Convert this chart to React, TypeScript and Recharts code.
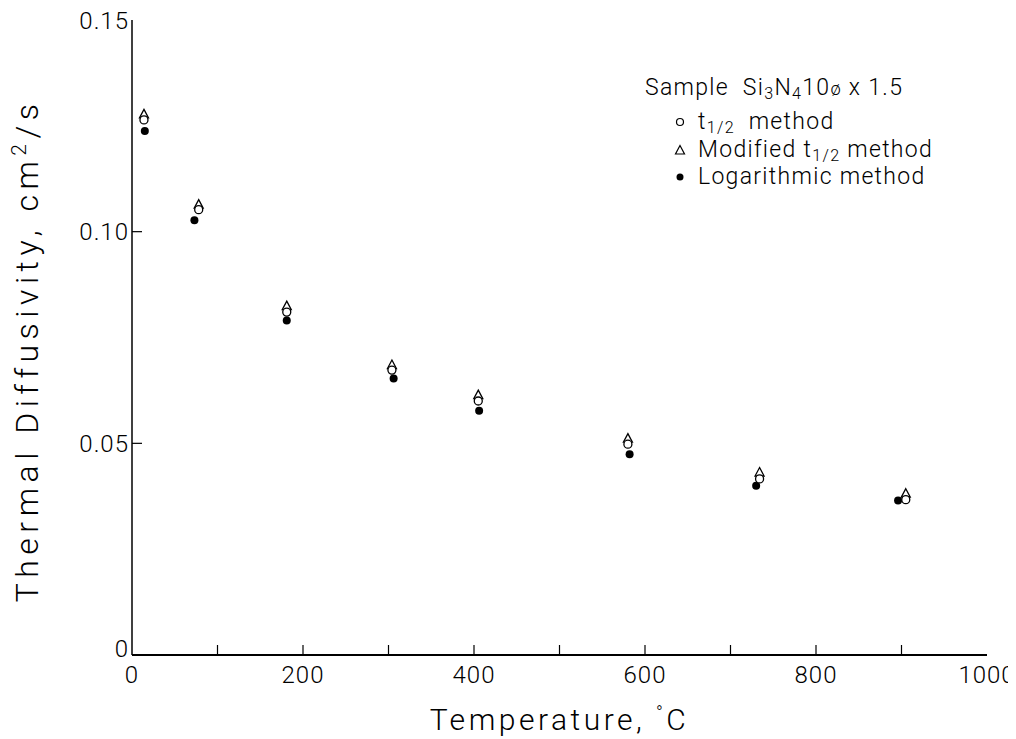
import React from 'react';
import { ScatterChart, Scatter, XAxis, YAxis, Legend, ReferenceLine } from 'recharts';

// values
const tempsOpen = [14, 78, 181, 304, 405, 580, 734, 905];
const halfTimeMethod = [0.1264, 0.1052, 0.081, 0.0673, 0.06, 0.0498, 0.0416, 0.0367];
const modifiedHalfTimeMethod = [0.1277, 0.1064, 0.0824, 0.0685, 0.0614, 0.0511, 0.0431, 0.0381];
const tempsLog = [15, 73, 181, 306, 406, 582, 730, 896];
const logarithmicMethod = [0.1238, 0.1027, 0.079, 0.0653, 0.0577, 0.0474, 0.04, 0.0365];

const xTicks = [0, 100, 200, 300, 400, 500, 600, 700, 800, 900, 1000];
const yTicks = [0, 0.05, 0.1, 0.15];

const toPoints = (ts: number[], ds: number[]) => ts.map((t, i) => ({ t, d: ds[i] }));

const halfData = toPoints(tempsOpen, halfTimeMethod);
const modData = toPoints(tempsOpen, modifiedHalfTimeMethod);
const logData = toPoints(tempsLog, logarithmicMethod);

const W = 1008;
const H = 731;
const M = { top: 12, right: 29, left: 0, bottom: 8 };
const Y_AXIS_W = 124;
const X_AXIS_H = 76;
const X_MAX = 1000;
const Y_MAX = 0.15;
const PLOT_W = W - M.left - M.right - Y_AXIS_W;
const PLOT_H = H - M.top - M.bottom - X_AXIS_H;
// inward tick length (10px) expressed in data units
const TICK_PX = 10;
const xTickLen = (TICK_PX / PLOT_H) * Y_MAX;
const yTickLen = (TICK_PX / PLOT_W) * X_MAX;

const font = "Roboto, 'DejaVu Sans', sans-serif";
const tickStyle = { fill: '#000', fontSize: 24, fontFamily: font, fontWeight: 300, letterSpacing: 1 };
const titleStyle = { fill: '#000', fontSize: 32, fontFamily: font, fontWeight: 300, letterSpacing: 5.5 };

const OpenCircle = (p: any) => (
  <circle cx={p.cx} cy={p.cy} r={4} fill="#fff" stroke="#000" strokeWidth={1.3} />
);

const OpenTriangle = (p: any) => (
  <polygon
    points={`${p.cx},${p.cy - 5} ${p.cx + 4.5},${p.cy + 3.5} ${p.cx - 4.5},${p.cy + 3.5}`}
    fill="#fff"
    stroke="#000"
    strokeWidth={1.3}
  />
);

const FilledDot = (p: any) => <circle cx={p.cx} cy={p.cy} r={4} fill="#000" />;

const XTick = (p: any) => {
  const { x, y, payload } = p;
  const v = payload.value;
  if (v % 200 !== 0) return <g />;
  return (
    <text x={x} y={y - 3} dy="0.71em" textAnchor="middle" style={tickStyle}>
      {v}
    </text>
  );
};

const YTick = (p: any) => {
  const { x, y, payload } = p;
  const v = payload.value;
  // the zero sits a little higher so it clears the x-axis zero
  const lift = v === 0 ? 7 : 0;
  return (
    <text x={x + 11} y={y - lift} dy="0.36em" textAnchor="end" style={tickStyle}>
      {v === 0 ? '0' : v.toFixed(2)}
    </text>
  );
};

const YTitle = ({ viewBox }: any) => {
  const x = viewBox.x + 30;
  const y = viewBox.y + viewBox.height / 2 + 13;
  return (
    <text x={x} y={y} transform={`rotate(-90 ${x} ${y})`} textAnchor="middle" style={titleStyle}>
      Thermal Diffusivity, cm<tspan dy={-12} fontSize={21}>2</tspan>
      <tspan dy={12}>/s</tspan>
    </text>
  );
};

const XTitle = ({ viewBox }: any) => {
  const x = viewBox.x + viewBox.width / 2;
  const y = viewBox.y + 75;
  return (
    <text x={x} y={y} textAnchor="middle" style={{ ...titleStyle, fontSize: 30, letterSpacing: 3.5 }}>
      Temperature, <tspan dy={-11} fontSize={18}>°</tspan>
      <tspan dy={11}>C</tspan>
    </text>
  );
};

const sub = { fontSize: '0.7em', verticalAlign: '-0.25em', lineHeight: 0 };

const LegendBox = () => {
  const row = (top: number, left: number) =>
    ({ position: 'absolute', top, left, lineHeight: '22px', whiteSpace: 'pre' }) as React.CSSProperties;
  const mark = (top: number) => ({ position: 'absolute', top, left: 29 }) as React.CSSProperties;
  return (
    <div
      style={{
        position: 'relative',
        width: 320,
        height: 130,
        fontFamily: font,
        fontWeight: 300,
        fontSize: 23,
        color: '#000',
        letterSpacing: 1.3,
      }}
    >
      <div style={row(9, 0)}>
        Sample  Si<span style={sub}>3</span>N<span style={sub}>4</span>10<span style={{ fontSize: '0.8em' }}>ø</span> x 1.5
      </div>
      <svg width={12} height={12} style={mark(48)}>
        <circle cx={6} cy={6} r={3.5} fill="none" stroke="#000" strokeWidth={1.2} />
      </svg>
      <div style={row(43, 53)}>
        t<span style={sub}>1/2</span>  method
      </div>
      <svg width={12} height={12} style={mark(76)}>
        <polygon points="6,1.5 10.5,10 1.5,10" fill="none" stroke="#000" strokeWidth={1.2} />
      </svg>
      <div style={row(71, 53)}>
        Modified t<span style={sub}>1/2</span> method
      </div>
      <svg width={12} height={12} style={mark(103)}>
        <circle cx={6} cy={6} r={3.5} fill="#000" />
      </svg>
      <div style={row(98, 53)}>Logarithmic method</div>
    </div>
  );
};

export default function App() {
  return (
    <ScatterChart width={W} height={H} margin={M}>
      <XAxis
        type="number"
        dataKey="t"
        domain={[0, X_MAX]}
        ticks={xTicks}
        height={X_AXIS_H}
        tickSize={6}
        tickMargin={8}
        tickLine={false}
        axisLine={{ stroke: '#000', strokeWidth: 2 }}
        tick={<XTick />}
        label={{ content: XTitle }}
      />
      <XAxis
        xAxisId="top"
        orientation="top"
        type="number"
        domain={[0, X_MAX]}
        height={0}
        tick={false}
        tickLine={false}
        axisLine={{ stroke: '#000', strokeWidth: 1.5 }}
      />
      <YAxis
        type="number"
        dataKey="d"
        domain={[0, Y_MAX]}
        ticks={yTicks}
        width={Y_AXIS_W}
        tickSize={6}
        tickMargin={8}
        tickLine={false}
        axisLine={{ stroke: '#000', strokeWidth: 1.5 }}
        tick={<YTick />}
        label={{ content: YTitle }}
      />
      <YAxis
        yAxisId="right"
        orientation="right"
        type="number"
        domain={[0, Y_MAX]}
        width={0}
        tick={false}
        tickLine={false}
        axisLine={{ stroke: '#000', strokeWidth: 1.5 }}
      />
      {xTicks.slice(1, -1).map((v) => (
        <ReferenceLine
          key={`xt${v}`}
          segment={[
            { x: v, y: 0 },
            { x: v, y: xTickLen },
          ]}
          stroke="#000"
          strokeWidth={1.2}
          ifOverflow="visible"
        />
      ))}
      {yTicks.slice(1, -1).map((v) => (
        <ReferenceLine
          key={`yt${v}`}
          segment={[
            { x: 0, y: v },
            { x: yTickLen, y: v },
          ]}
          stroke="#000"
          strokeWidth={1.2}
          ifOverflow="visible"
        />
      ))}
      <Legend
        layout="vertical"
        align="center"
        verticalAlign="middle"
        content={() => <LegendBox />}
        wrapperStyle={{ position: 'absolute', left: 637, top: 60, width: 320, height: 130 }}
      />
      <Scatter name="Logarithmic method" data={logData} shape={FilledDot} isAnimationActive={false} />
      <Scatter name="Modified t1/2 method" data={modData} shape={OpenTriangle} isAnimationActive={false} />
      <Scatter name="t1/2 method" data={halfData} shape={OpenCircle} isAnimationActive={false} />
    </ScatterChart>
  );
}
